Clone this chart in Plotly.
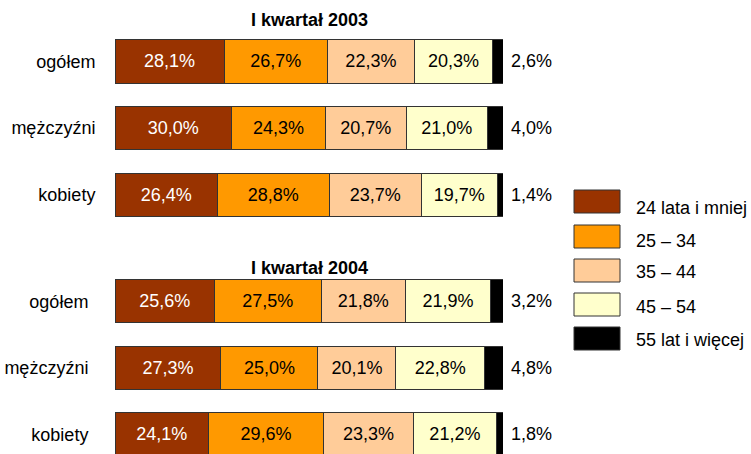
import plotly.graph_objects as go

# ---------------- data ----------------
periods = ["I kwartał 2003", "I kwartał 2004"]
categories = ["ogółem", "mężczyźni", "kobiety"]
age_groups = ["24 lata i mniej", "25 – 34", "35 – 44", "45 – 54", "55 lat i więcej"]

# values per age group: first 3 = 2003 (ogółem, mężczyźni, kobiety), last 3 = 2004
s_24 = [28.1, 30.0, 26.4, 25.6, 27.3, 24.1]
s_25_34 = [26.7, 24.3, 28.8, 27.5, 25.0, 29.6]
s_35_44 = [22.3, 20.7, 23.7, 21.8, 20.1, 23.3]
s_45_54 = [20.3, 21.0, 19.7, 21.9, 22.8, 21.2]
s_55 = [2.6, 4.0, 1.4, 3.2, 4.8, 1.8]

series = [s_24, s_25_34, s_35_44, s_45_54, s_55]
colors = ["#993300", "#FF9900", "#FFCC99", "#FFFFCC", "#000000"]
text_colors = ["white", "black", "black", "black", "black"]

FONT = "Arial, Liberation Sans, sans-serif"
FS = 18
W, H = 751, 454
L, R = 115, 248
PW = W - L - R


def fmt(v):
    return f"{v:.1f}".replace(".", ",") + "%"


def px_x(px):
    return (px - L) / PW


def px_y(py):
    return 1 - py / H


fig = go.Figure()

for g in range(2):
    xa = "x" if g == 0 else "x2"
    ya = "y" if g == 0 else "y2"
    for i, (name, vals) in enumerate(zip(age_groups, series)):
        part = vals[g * 3:(g + 1) * 3]
        last = i == len(series) - 1
        fig.add_trace(go.Bar(
            x=part, y=categories, orientation="h", name=name,
            xaxis=xa, yaxis=ya, showlegend=False,
            marker=dict(color=colors[i], line=dict(color="#333333", width=1)),
            width=0.65,
            text=["" if last else fmt(v) for v in part],
            textposition="inside", insidetextanchor="middle", textangle=0,
            insidetextfont=dict(family=FONT, size=FS, color=text_colors[i]),
            hoverinfo="name+x",
        ))
    # outside labels for the last segment
    for c, v in zip(categories, s_55[g * 3:(g + 1) * 3]):
        fig.add_annotation(x=100, y=c, xref=xa, yref=ya, text=fmt(v),
                           showarrow=False, xanchor="left", xshift=6,
                           font=dict(family=FONT, size=FS, color="black"))

# group titles
for title, py in zip(periods, [20, 268]):
    fig.add_annotation(x=0.5, y=px_y(py), xref="paper", yref="paper",
                       text=f"<b>{title}</b>", showarrow=False,
                       xanchor="center", yanchor="middle",
                       font=dict(family=FONT, size=FS, color="black"))

# custom legend
box_tops = [190, 225, 259, 293, 327]
text_ys = [208, 241, 272, 307, 340]
for name, col, top, ty in zip(age_groups, colors, box_tops, text_ys):
    fig.add_shape(type="rect", xref="paper", yref="paper",
                  x0=px_x(574), x1=px_x(620), y0=px_y(top + 23), y1=px_y(top),
                  fillcolor=col, line=dict(color="#333333", width=1))
    fig.add_annotation(x=px_x(634), y=px_y(ty), xref="paper", yref="paper",
                       text=name, showarrow=False, xanchor="left", yanchor="middle",
                       font=dict(family=FONT, size=FS, color="black"))

axis_x = dict(range=[0, 100], visible=False, showgrid=False, zeroline=False,
              fixedrange=True)
fig.update_layout(
    width=W, height=H,
    margin=dict(l=L, r=R, t=0, b=0),
    paper_bgcolor="white", plot_bgcolor="white",
    barmode="stack", bargap=0.35,
    font=dict(family=FONT, size=FS, color="black"),
    xaxis=dict(axis_x, anchor="y", domain=[0, 1]),
    xaxis2=dict(axis_x, anchor="y2", domain=[0, 1]),
    yaxis=dict(domain=[px_y(228), px_y(28)], range=[2.5, -0.5], anchor="x",
               showgrid=False, zeroline=False, showline=False,
               ticks="outside", ticklen=15, tickcolor="rgba(0,0,0,0)",
               tickfont=dict(family=FONT, size=FS, color="black")),
    yaxis2=dict(domain=[0, px_y(268)], range=[2.297, -0.5], anchor="x2",
                showgrid=False, zeroline=False, showline=False,
                ticks="outside", ticklen=22, tickcolor="rgba(0,0,0,0)",
                tickfont=dict(family=FONT, size=FS, color="black")),
)

fig.write_html(
    "out.html",
    config={"displayModeBar": False},
    post_script="document.body.style.margin='0';document.body.style.padding='0';",
)
